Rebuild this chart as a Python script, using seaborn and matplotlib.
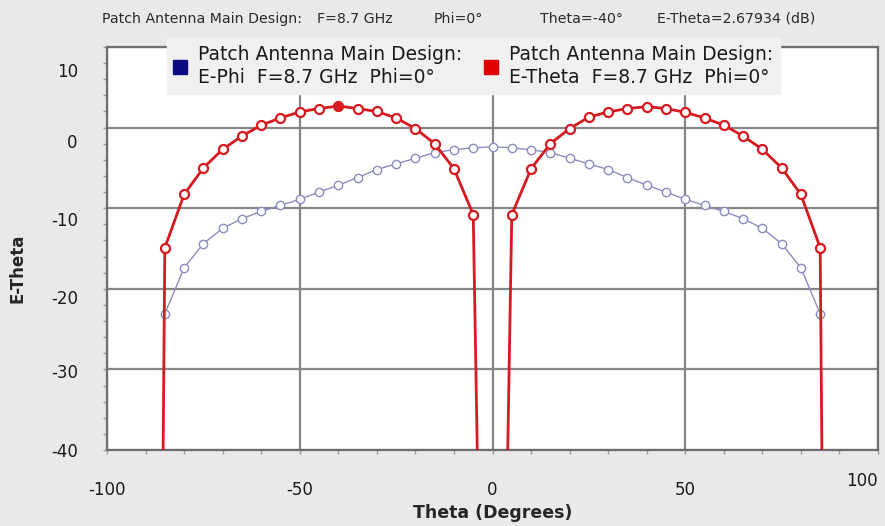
import matplotlib
matplotlib.use("Agg")
import matplotlib.pyplot as plt
from matplotlib.lines import Line2D
from matplotlib.ticker import MultipleLocator
from matplotlib.transforms import ScaledTranslation
import seaborn as sns
import pandas as pd

# ---- data ----
theta_phi = [-85, -80, -75, -70, -65, -60, -55, -50, -45, -40, -35, -30, -25, -20, -15, -10, -5, 0,
             5, 10, 15, 20, 25, 30, 35, 40, 45, 50, 55, 60, 65, 70, 75, 80, 85]
e_phi = [-23.1, -17.4, -14.4, -12.5, -11.3, -10.4, -9.65, -8.9, -8.0, -7.15, -6.2, -5.2, -4.5, -3.8,
         -3.1, -2.75, -2.5, -2.4, -2.5, -2.75, -3.1, -3.8, -4.5, -5.2, -6.2, -7.15, -8.0, -8.9, -9.65,
         -10.4, -11.3, -12.5, -14.4, -17.4, -23.1]

theta_th = [-90, -85, -80, -75, -70, -65, -60, -55, -50, -45, -40, -35, -30, -25, -20, -15, -10, -5, 0,
            5, 10, 15, 20, 25, 30, 35, 40, 45, 50, 55, 60, 65, 70, 75, 80, 85, 90]
e_theta = [-300, -14.9, -8.3, -5.0, -2.7, -1.05, 0.3, 1.2, 1.95, 2.36, 2.68, 2.36, 2.0, 1.2, -0.12,
           -2.0, -5.1, -10.8, -150, -10.8, -5.1, -2.0, -0.12, 1.3, 1.95, 2.36, 2.6, 2.36, 1.9, 1.2,
           0.3, -1.05, -2.7, -5.0, -8.3, -14.9, -300]

cursor_theta = [-40]
cursor_val = [2.67934]

title_parts = ["Patch Antenna Main Design:", "F=8.7 GHz", "Phi=0°", "Theta=-40°",
               "E-Theta=2.67934 (dB)"]
title_x_px = [102, 317, 434, 540, 657]
leg_labels = ["Patch Antenna Main Design:\nE-Phi  F=8.7 GHz  Phi=0°",
              "Patch Antenna Main Design:\nE-Theta  F=8.7 GHz  Phi=0°"]

df_phi = pd.DataFrame({"theta": theta_phi, "val": e_phi})
df_th = pd.DataFrame({"theta": theta_th, "val": e_theta})
df_cur = pd.DataFrame({"theta": cursor_theta, "val": cursor_val})

sns.set_theme(style="white")
plt.rcParams["font.family"] = ["DejaVu Sans"]
plt.rcParams["axes.unicode_minus"] = False

BG = "#e9e9e9"
GRID = "#868686"
RED = "#d71920"
BLUE = "#8c8cc0"
W, H = 885, 526

fig = plt.figure(figsize=(8.85, 5.26), dpi=100, facecolor=BG)
ax = fig.add_axes([107 / W, 1 - 450 / H, (878 - 107) / W, (450 - 47) / H])
ax.set_facecolor("white")

sns.lineplot(data=df_phi, x="theta", y="val", ax=ax, sort=False, color=BLUE, lw=1.0,
             marker="o", markersize=6, markerfacecolor="white", markeredgecolor=BLUE,
             markeredgewidth=1.0, zorder=3)
sns.lineplot(data=df_th, x="theta", y="val", ax=ax, sort=False, color=RED, lw=2.0,
             marker="o", markersize=6.5, markerfacecolor="white", markeredgecolor=RED,
             markeredgewidth=1.6, zorder=4)
sns.scatterplot(data=df_cur, x="theta", y="val", ax=ax, color=RED, s=40, edgecolor=RED, zorder=5)

ax.set_xlim(-100, 100)
ax.set_ylim(-40, 10)
ax.xaxis.set_major_locator(MultipleLocator(50))
ax.xaxis.set_minor_locator(MultipleLocator(10))
ax.yaxis.set_major_locator(MultipleLocator(10))
ax.yaxis.set_minor_locator(MultipleLocator(2))
ax.grid(True, which="major", color=GRID, lw=1.6)
ax.set_axisbelow(True)
for s in ax.spines.values():
    s.set_color("#6e6e6e")
    s.set_linewidth(1.6)
ax.tick_params(axis="both", which="major", direction="out", length=3, width=1, color="#999999",
               labelsize=12, labelcolor="#1a1a1a")
ax.tick_params(axis="x", which="major", pad=19)
ax.tick_params(axis="y", which="major", pad=18)
ax.tick_params(axis="both", which="minor", direction="out", length=3, width=1, color="#999999")
ax.tick_params(left=True, bottom=True, which="both")

ax.set_xlabel("Theta (Degrees)", fontsize=12.5, fontweight="bold", labelpad=2)
ax.xaxis.set_label_coords(0.5, -(513 - 450) / (450 - 47), transform=ax.transAxes)
ax.xaxis.label.set_va("center")
ax.set_ylabel("E-Theta", fontsize=12, fontweight="bold")
ax.yaxis.set_label_coords(-(107 - 18) / (878 - 107), 0.5 - (268 - 248.5) / (450 - 47),
                          transform=ax.transAxes)
ax.yaxis.label.set_va("center")

# tick-label quirks of the reference screenshot
fig.canvas.draw()
for tk in ax.xaxis.get_major_ticks():
    if tk.label1.get_text() == "100":
        tk.label1.set_horizontalalignment("right")
        tk.label1.set_transform(tk.label1.get_transform()
                                + ScaledTranslation(0, 9 / 100, fig.dpi_scale_trans))
y_label_shift_px = {"10": 23, "0": 13, "-10": 11, "-20": 8, "-30": 2}
for tk in ax.yaxis.get_major_ticks():
    sh = y_label_shift_px.get(tk.label1.get_text())
    if sh:
        tk.label1.set_transform(tk.label1.get_transform()
                                + ScaledTranslation(0, -sh / 100, fig.dpi_scale_trans))

for txt, xp in zip(title_parts, title_x_px):
    fig.text(xp / W, 1 - 19 / H, txt, fontsize=10.2, color="#2a2a2a", ha="left", va="center")

handles = [Line2D([], [], marker="s", ls="none", color="#0a0a80", markersize=10),
           Line2D([], [], marker="s", ls="none", color="#e00000", markersize=10)]
leg = fig.legend(handles, leg_labels, loc="upper center", bbox_to_anchor=(473.5 / W, 1 - 38 / H),
                 bbox_transform=fig.transFigure, ncol=2, fontsize=13.5, frameon=True,
                 fancybox=False, framealpha=1, handlelength=0.7, handletextpad=0.6,
                 columnspacing=1.2, borderpad=0.35, borderaxespad=0)
leg.get_frame().set_facecolor("#f0f0f0")
leg.get_frame().set_edgecolor("#f0f0f0")
leg.set_zorder(10)
for t in leg.get_texts():
    t.set_linespacing(1.3)
    t.set_color("#1a1a1a")

fig.savefig("out.png", dpi=100, facecolor=BG)
